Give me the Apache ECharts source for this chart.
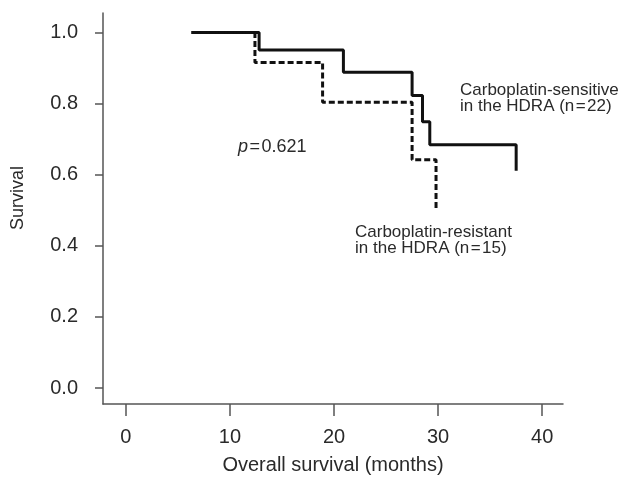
<!DOCTYPE html>
<html>
<head>
<meta charset="utf-8">
<script src="https://cdn.jsdelivr.net/npm/echarts@6/dist/echarts.min.js"></script>
<style>
  html, body { margin: 0; padding: 0; background: #fff; }
  #chart { width: 623px; height: 483px; }
</style>
</head>
<body>
<div id="chart"></div>
<script>
// Kaplan-Meier steps (months, survival)
const sensitiveTimes = [6.3, 12.8, 20.9, 27.5, 28.5, 29.2, 37.5];
const sensitiveSurv = [1.0, 0.951, 0.888, 0.823, 0.749, 0.684, 0.611];
const resistantTimes = [6.3, 12.4, 18.9, 27.5, 29.8];
const resistantSurv = [1.0, 0.916, 0.804, 0.642, 0.504];

const xTicks = [0, 10, 20, 30, 40];
const yTicks = [0, 0.2, 0.4, 0.6, 0.8, 1.0];

const FONT = '"Liberation Sans", Arial, sans-serif';
const TEXT = '#2a2a2a';
const AXIS = '#555';

function pairs(xs, ys) {
  return xs.map((x, i) => [x, ys[i]]);
}

const chart = echarts.init(document.getElementById('chart'));

const option = {
  animation: false,
  backgroundColor: '#fff',
  grid: { left: 103, right: 60, top: 13, bottom: 79, containLabel: false },
  xAxis: {
    type: 'value',
    min: -2.2,
    max: 42,
    name: 'Overall survival (months)',
    nameLocation: 'middle',
    nameGap: 51,
    nameTextStyle: { color: TEXT, fontSize: 20, fontFamily: FONT },
    splitLine: { show: false },
    axisLine: { show: true, onZero: false, lineStyle: { color: AXIS, width: 1.5 } },
    axisTick: { show: true, length: 12, customValues: xTicks, lineStyle: { color: AXIS, width: 1.5 } },
    axisLabel: { customValues: xTicks, margin: 23, color: TEXT, fontSize: 20, fontFamily: FONT }
  },
  yAxis: {
    type: 'value',
    min: -0.045,
    max: 1.055,
    splitLine: { show: false },
    axisLine: { show: true, onZero: false, lineStyle: { color: AXIS, width: 1.5 } },
    axisTick: { show: true, length: 8, customValues: yTicks, lineStyle: { color: AXIS, width: 1.5 } },
    axisLabel: {
      customValues: yTicks,
      margin: 25,
      color: TEXT,
      fontSize: 20,
      fontFamily: FONT,
      formatter: v => v.toFixed(1)
    }
  },
  series: [
    {
      name: 'sensitive',
      type: 'line',
      step: 'end',
      showSymbol: false,
      data: pairs(sensitiveTimes, sensitiveSurv),
      lineStyle: { color: '#111', width: 3 }
    },
    {
      name: 'resistant',
      type: 'line',
      step: 'end',
      showSymbol: false,
      data: pairs(resistantTimes, resistantSurv),
      lineStyle: { color: '#111', width: 3, type: [6, 3] }
    }
  ],
  graphic: [
    {
      // y axis title
      type: 'text',
      x: 18,
      y: 198,
      rotation: Math.PI / 2,
      style: {
        text: 'Survival',
        fill: TEXT,
        font: '18px ' + FONT,
        align: 'center',
        verticalAlign: 'middle'
      }
    },
    {
      type: 'text',
      left: 460,
      top: 82,
      style: {
        text: 'Carboplatin-sensitive\nin the HDRA (n\u200a=\u200a22)',
        fill: TEXT,
        font: '17px ' + FONT,
        lineHeight: 16
      }
    },
    {
      type: 'text',
      left: 355,
      top: 224,
      style: {
        text: 'Carboplatin-resistant\nin the HDRA (n\u200a=\u200a15)',
        fill: TEXT,
        font: '17px ' + FONT,
        lineHeight: 16
      }
    },
    {
      type: 'text',
      left: 238,
      top: 138,
      style: {
        text: '{i|p}{n|\u200a=\u200a0.621}',
        rich: {
          i: { fontStyle: 'italic', fontSize: 18, fontFamily: FONT, fill: TEXT },
          n: { fontSize: 18, fontFamily: FONT, fill: TEXT }
        }
      }
    }
  ]
};

chart.setOption(option);
</script>
</body>
</html>
